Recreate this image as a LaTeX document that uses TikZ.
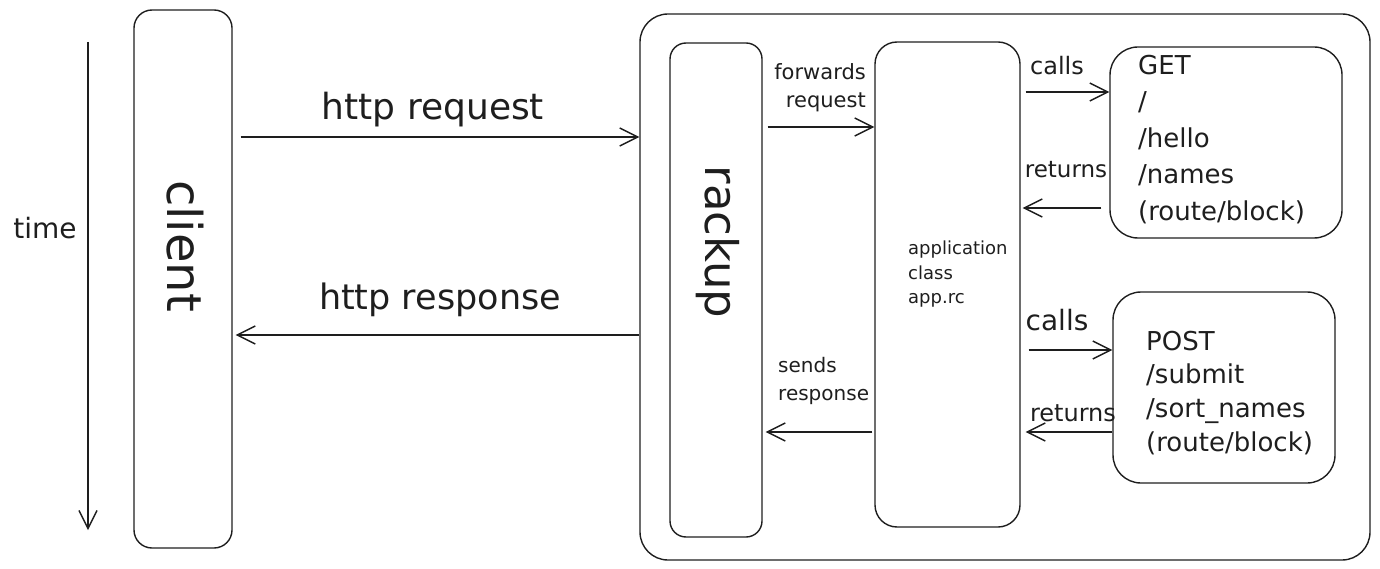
\documentclass[tikz,border=0pt]{standalone}
\usepackage{fontspec}
\setmainfont{DejaVu Sans}
\usetikzlibrary{arrows.meta,calc}
\definecolor{ink}{HTML}{1E1E1E}
\begin{document}
\begin{tikzpicture}[x=1pt,y=-1pt,
  box/.style={draw=ink,line width=1.4pt,rounded corners=#1,inner sep=0pt},
  box/.default=18pt,
  lbl/.style={text=ink,inner sep=0pt},
  arr/.style={draw=ink,line width=1.4pt,-{Straight Barb[length=18pt,width=18pt]}}]
\useasboundingbox (0,0) rectangle (1380,569);
% boxes
\node[box=18pt,minimum width=98pt,minimum height=538pt] (client) at (183,279) {};
\node[box=28pt,minimum width=730pt,minimum height=546pt] (outer) at (1005,287) {};
\node[box=16pt,minimum width=92pt,minimum height=494pt] (rackup) at (716,290) {};
\node[box=22pt,minimum width=145pt,minimum height=485pt] (app) at (947.5,284.5) {};
\node[box=28pt,minimum width=232pt,minimum height=191pt] (get) at (1226,142.5) {};
\node[box=28pt,minimum width=222pt,minimum height=191pt] (post) at (1224,387.5) {};
% labels
\node[lbl,font=\fontsize{28}{34}\selectfont] (timelbl) at (45,228) {time};
\node[lbl,rotate=-90,font=\fontsize{48}{56}\selectfont] (clientlbl) at (185,246) {client};
\node[lbl,rotate=-90,font=\fontsize{45}{54}\selectfont] (rackuplbl) at (718,242) {rackup};
\node[lbl,font=\fontsize{36}{44}\selectfont] (reqlbl) at (433,110) {http request};
\node[lbl,font=\fontsize{35}{44}\selectfont] (reslbl) at (440,300) {http response};
\node[lbl,align=right,anchor=north east,font=\fontsize{21}{28}\selectfont] (fwdlbl) at (866,63) {forwards\\request};
\node[lbl,align=left,anchor=north west,font=\fontsize{20}{28}\selectfont] (sendlbl) at (778,357) {sends\\response};
\node[lbl,align=left,anchor=north west,font=\fontsize{18}{24.5}\selectfont] (applbl) at (908,241) {application\\class\\app.rc};
\node[lbl,align=left,anchor=north west,font=\fontsize{26}{36.5}\selectfont] (getlbl) at (1138,55) {GET\\/\\/hello\\/names\\(route/block)};
\node[lbl,align=left,anchor=north west,font=\fontsize{26}{33.5}\selectfont] (postlbl) at (1146,331) {POST\\/submit\\/sort\_names\\(route/block)};
\node[lbl,font=\fontsize{24}{30}\selectfont] (calls1) at (1057,66) {calls};
\node[lbl,font=\fontsize{23}{30}\selectfont] (ret1) at (1066,170) {returns};
\node[lbl,font=\fontsize{28}{34}\selectfont] (calls2) at (1057,320) {calls};
\node[lbl,font=\fontsize{24}{30}\selectfont] (ret2) at (1073,413) {returns};
% connectors
\coordinate (t0) at (88,42);
\coordinate (t1) at (88,530);
\draw[arr] (t0) -- (t1);
\draw[arr] ($(client.east |- 0,137)+(8,0)$) -- (outer.west |- 0,137);
\draw[arr] (outer.west |- 0,335) -- ($(client.east |- 0,335)+(3,0)$);
\draw[arr] ($(rackup.east |- 0,127)+(5,0)$) -- (app.west |- 0,127);
\draw[arr] ($(app.east |- 0,92)+(5,0)$) -- (get.west |- 0,92);
\draw[arr] ($(get.west |- 0,208)+(-8,0)$) -- ($(app.east |- 0,208)+(2,0)$);
\draw[arr] ($(app.east |- 0,350)+(8,0)$) -- (post.west |- 0,350);
\draw[arr] (post.west |- 0,432) -- ($(app.east |- 0,432)+(5,0)$);
\draw[arr] ($(app.west |- 0,432)+(-2,0)$) -- ($(rackup.east |- 0,432)+(3,0)$);
\end{tikzpicture}
\end{document}
